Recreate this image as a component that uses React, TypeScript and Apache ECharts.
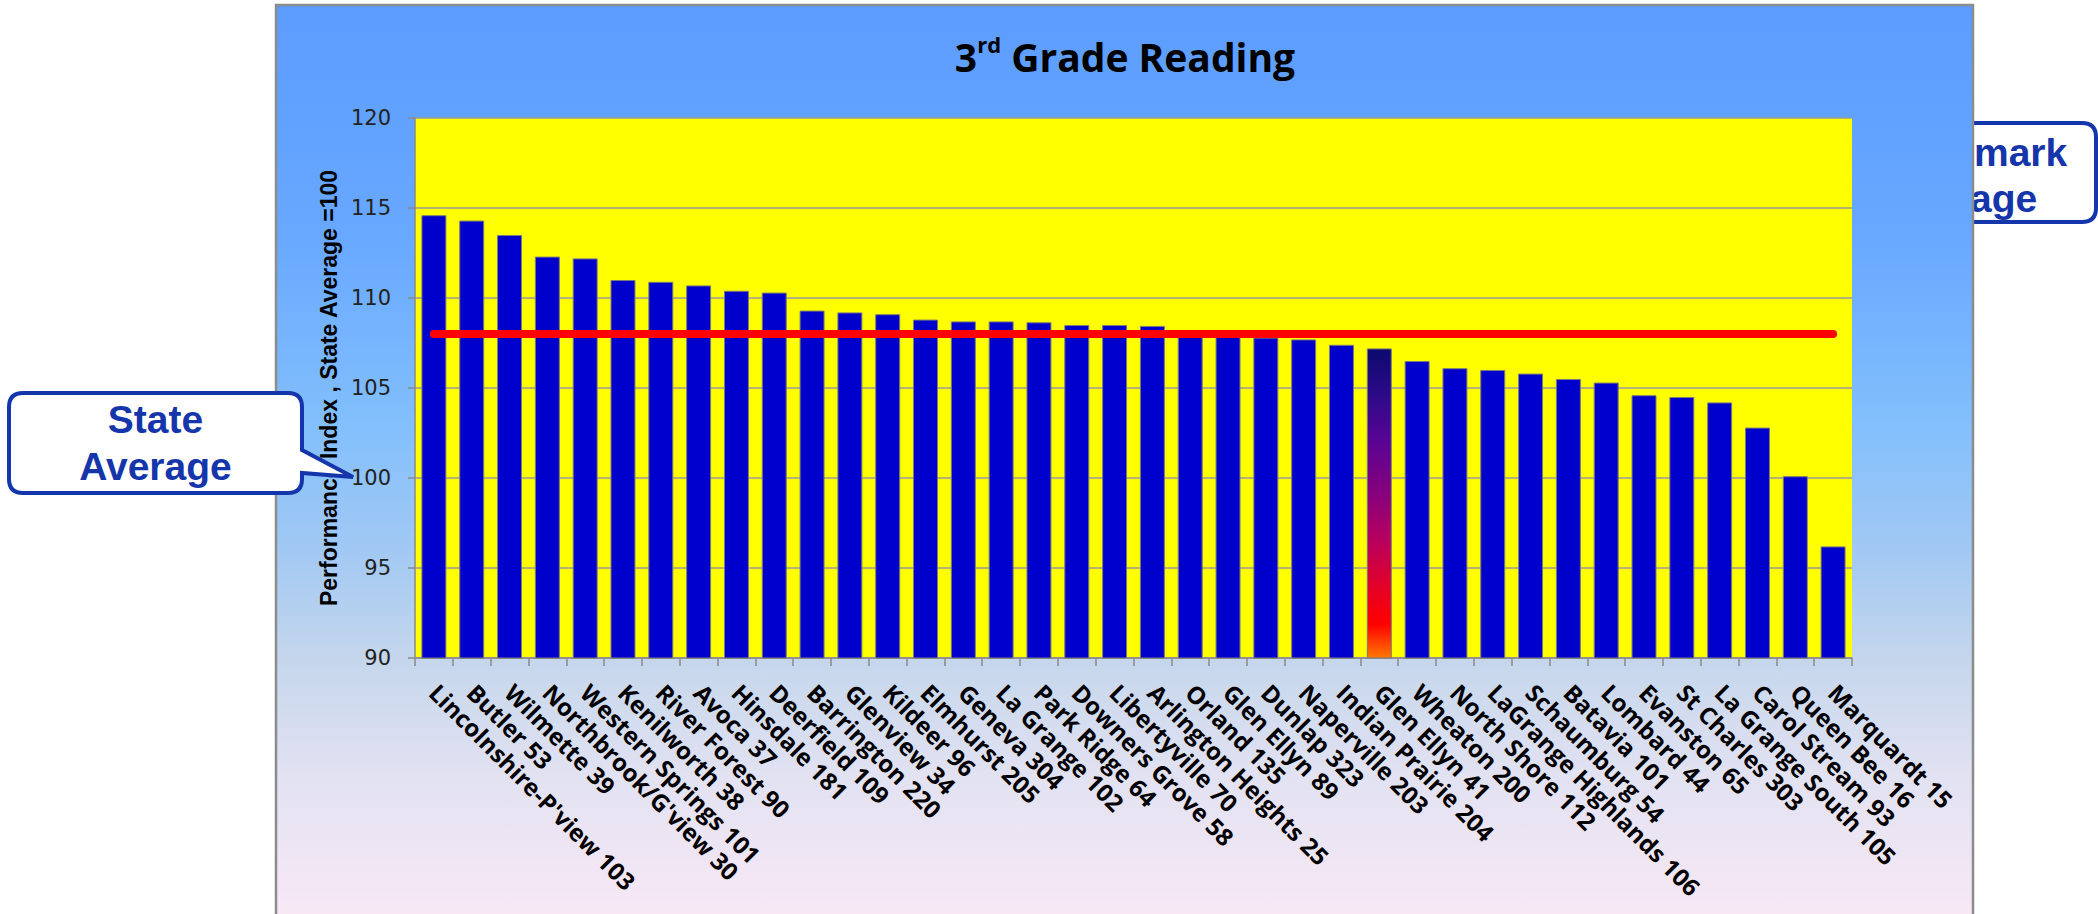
import React, { useEffect, useRef } from "react";
import * as echarts from "echarts";

const categories = [
  "Lincolnshire-P'view 103", "Butler 53", "Wilmette 39", "Northbrook/G'view 30", "Western Springs 101",
  "Kenilworth 38", "River Forest 90", "Avoca 37", "Hinsdale 181", "Deerfield 109",
  "Barrington 220", "Glenview 34", "Kildeer 96", "Elmhurst 205", "Geneva 304",
  "La Grange 102", "Park Ridge 64", "Downers Grove 58", "Libertyville 70", "Arlington Heights 25",
  "Orland 135", "Glen Ellyn 89", "Dunlap 323", "Naperville 203", "Indian Prairie 204",
  "Glen Ellyn 41", "Wheaton 200", "North Shore 112", "LaGrange Highlands 106", "Schaumburg 54",
  "Batavia 101", "Lombard 44", "Evanston 65", "St Charles 303", "La Grange South 105",
  "Carol Stream 93", "Queen Bee 16", "Marquardt 15",
];

const performanceIndex = [
  114.6, 114.3, 113.5, 112.3, 112.2, 111.0, 110.9, 110.7, 110.4, 110.3,
  109.3, 109.2, 109.1, 108.8, 108.7, 108.7, 108.65, 108.5, 108.5, 108.45,
  108.1, 108.0, 107.8, 107.7, 107.4, 107.2, 106.5, 106.1, 106.0, 105.8,
  105.5, 105.3, 104.6, 104.5, 104.2, 102.8, 100.1, 96.2,
];

const benchmarkAverage = 108;
const highlightedDistrict = "Glen Ellyn 41";

const yTicks = { min: 90, max: 120, interval: 5 };

const yAxisName = "Performance Index , State Average =100";
const stateCalloutText = "State\nAverage";
const benchCalloutText = "Benchmark\nAverage";

// callout outlines (SVG paths)
const stateCalloutPath =
  "M 23 393 H 288 Q 302 393 302 407 V 450 L 353 477 L 302 473 V 479 Q 302 493 288 493 H 23 Q 9 493 9 479 V 407 Q 9 393 23 393 Z";
const benchCalloutPath =
  "M 1840 123 H 2082 Q 2096 123 2096 137 V 208 Q 2096 222 2082 222 H 1840 Q 1826 222 1826 208 V 137 Q 1826 123 1840 123 Z";

echarts.graphic.registerShape("stateCallout", echarts.graphic.extendPath(stateCalloutPath, {}));
echarts.graphic.registerShape("benchCallout", echarts.graphic.extendPath(benchCalloutPath, {}));

const calloutBlue = "#1535aa";

export default function App() {
  const ref = useRef<HTMLDivElement>(null);

  useEffect(() => {
    if (!ref.current) return;
    const chart = echarts.init(ref.current, undefined, { renderer: "svg" });

    const gradientBar = {
      type: "linear",
      x: 0,
      y: 0,
      x2: 0,
      y2: 1,
      colorStops: [
        { offset: 0, color: "#0c0a6e" },
        { offset: 0.15, color: "#2c0a88" },
        { offset: 0.3, color: "#5a0494" },
        { offset: 0.48, color: "#8a007a" },
        { offset: 0.62, color: "#b8005e" },
        { offset: 0.78, color: "#e60024" },
        { offset: 0.89, color: "#ff0000" },
        { offset: 1, color: "#ff7800" },
      ],
    };

    const barData = performanceIndex.map((v, i) =>
      categories[i] === highlightedDistrict
        ? { value: v, itemStyle: { color: gradientBar } }
        : v
    );

    const option: any = {
      animation: false,
      textStyle: { fontFamily: "Liberation Sans" },
      graphic: {
        elements: [
          // Benchmark callout (behind chart area)
          {
            type: "benchCallout",
            x: 0,
            y: 0,
            z: -5,
            style: { fill: "#ffffff", stroke: calloutBlue, lineWidth: 4 },
          },
          {
            type: "text",
            x: 1961,
            y: 175,
            z: -5,
            style: {
              text: benchCalloutText,
              fill: calloutBlue,
              font: "bold 39px 'Liberation Sans'",
              lineHeight: 46,
              align: "center",
              verticalAlign: "middle",
            },
          },
          // chart area background
          {
            type: "rect",
            x: 0,
            y: 0,
            z: -4,
            shape: { x: 276, y: 5, width: 1697, height: 930 },
            style: {
              fill: {
                type: "linear",
                x: 0,
                y: 0,
                x2: 0,
                y2: 1,
                colorStops: [
                  { offset: 0, color: "#5b9cff" },
                  { offset: 0.25, color: "#68a8ff" },
                  { offset: 0.45, color: "#82bffc" },
                  { offset: 0.58, color: "#a0c8f4" },
                  { offset: 0.7, color: "#c4d6ec" },
                  { offset: 0.83, color: "#e2e2f2" },
                  { offset: 1, color: "#fbe9f6" },
                ],
              },
              stroke: "#8c8c8c",
              lineWidth: 2.5,
            },
          },
          // title
          {
            type: "text",
            x: 1125,
            y: 56,
            style: {
              text: "{a|3}{s|rd}{a| Grade Reading}",
              align: "center",
              verticalAlign: "middle",
              rich: {
                a: {
                  fontFamily: "Open Sans",
                  fontWeight: "bold",
                  fontSize: 39,
                  lineHeight: 46,
                  fill: "#000",
                  color: "#000",
                },
                s: {
                  fontFamily: "Open Sans",
                  fontWeight: "bold",
                  fontSize: 22,
                  verticalAlign: "top",
                  color: "#000",
                  fill: "#000",
                },
              },
            },
          },
          // State Average callout (in front)
          {
            type: "stateCallout",
            x: 0,
            y: 0,
            z: 50,
            style: { fill: "#ffffff", stroke: calloutBlue, lineWidth: 4 },
          },
          {
            type: "text",
            x: 155.5,
            y: 443,
            z: 51,
            style: {
              text: stateCalloutText,
              fill: calloutBlue,
              font: "bold 39px 'Liberation Sans'",
              lineHeight: 47,
              align: "center",
              verticalAlign: "middle",
            },
          },
        ],
      },
      grid: {
        left: 415,
        right: 246,
        top: 118,
        bottom: 256,
        show: true,
        backgroundColor: "#ffff00",
        borderWidth: 0,
        containLabel: false,
      },
      xAxis: {
        type: "category",
        data: categories,
        boundaryGap: true,
        axisLine: { show: true, lineStyle: { color: "#8a8a8a", width: 1.5 } },
        axisTick: { show: true, length: 8, lineStyle: { color: "#8a8a8a", width: 1.5 } },
        axisLabel: {
          interval: 0,
          rotate: -45,
          margin: 30,
          fontFamily: "Open Sans",
          fontWeight: "bold",
          fontSize: 24,
          color: "#000",
        },
      },
      yAxis: {
        type: "value",
        min: yTicks.min,
        max: yTicks.max,
        interval: yTicks.interval,
        name: yAxisName,
        nameLocation: "middle",
        nameGap: 74,
        nameTextStyle: {
          fontFamily: "Liberation Sans",
          fontWeight: "bold",
          fontSize: 23,
          color: "#000",
        },
        axisLine: { show: true, lineStyle: { color: "#8a8a8a", width: 1.5 } },
        axisTick: { show: true, length: 7, lineStyle: { color: "#8a8a8a", width: 1.5 } },
        axisLabel: {
          margin: 24,
          fontFamily: "DejaVu Sans",
          fontSize: 21,
          color: "#222",
        },
        splitLine: { show: true, lineStyle: { color: "#9a9a9a", width: 1.5 } },
      },
      series: [
        {
          type: "bar",
          data: barData,
          barCategoryGap: "34%",
          itemStyle: { color: "#0000cc", borderColor: "#7a7a7a", borderWidth: 1 },
          silent: true,
        },
        {
          type: "line",
          data: categories.map(() => benchmarkAverage),
          symbol: "none",
          showSymbol: false,
          z: 5,
          lineStyle: { color: "#ff0000", width: 8, cap: "round" },
          silent: true,
        },
      ],
    };

    chart.setOption(option);
    return () => chart.dispose();
  }, []);

  return (
    <div
      ref={ref}
      style={{ position: "absolute", left: 0, top: 0, width: 2098, height: 914 }}
    />
  );
}
